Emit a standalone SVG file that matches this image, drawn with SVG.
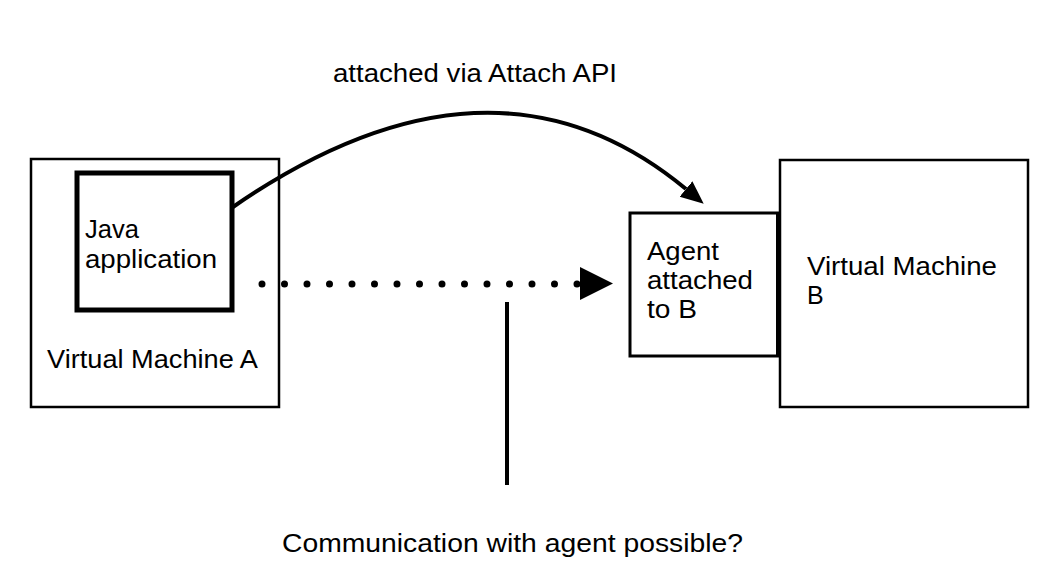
<svg xmlns="http://www.w3.org/2000/svg" width="1062" height="574" viewBox="0 0 1062 574">
<style>
.box{fill:#fff;stroke:#000}
.t{font-family:"Liberation Sans",Arial,Helvetica,sans-serif;font-size:25px;fill:#000}
</style>
<defs>
<marker id="ah" markerUnits="userSpaceOnUse" markerWidth="24" markerHeight="22" refX="0" refY="10" orient="auto" viewBox="0 0 24 22">
<path d="M0,0 L23,10 L0,20 z" fill="#000"/>
</marker>
</defs>
<rect width="1062" height="574" fill="#fff"/>
<g id="vmA">
<rect class="box" x="31" y="159" width="248" height="248" stroke-width="2.5"/>
<text class="t" x="47" y="368" textLength="211" lengthAdjust="spacingAndGlyphs">Virtual Machine A</text>
</g>
<g id="javaApp">
<rect class="box" x="77" y="173" width="155" height="137" stroke-width="5"/>
<text class="t" x="85" y="238" textLength="54" lengthAdjust="spacingAndGlyphs">Java</text>
<text class="t" x="85" y="268" textLength="132" lengthAdjust="spacingAndGlyphs">application</text>
</g>
<g id="vmB">
<rect class="box" x="780" y="160" width="248" height="247" stroke-width="2.5"/>
<text class="t" x="807" y="275" textLength="190" lengthAdjust="spacingAndGlyphs">Virtual Machine</text>
<text class="t" x="807" y="304">B</text>
</g>
<g id="agent">
<rect class="box" x="630" y="213" width="147.5" height="143" stroke-width="3"/>
<text class="t" x="647" y="260" textLength="72" lengthAdjust="spacingAndGlyphs">Agent</text>
<text class="t" x="647" y="289" textLength="106" lengthAdjust="spacingAndGlyphs">attached</text>
<text class="t" x="647" y="318" textLength="50" lengthAdjust="spacingAndGlyphs">to B</text>
</g>
<g id="connectors">
<path d="M233,207 Q492,28 686,189" fill="none" stroke="#000" stroke-width="4" marker-end="url(#ah)"/>
<line x1="262" y1="284" x2="578" y2="284" stroke="#000" stroke-width="7" stroke-linecap="round" stroke-dasharray="0 22.5"/>
<polygon points="580,267 613,283.5 580,300" fill="#000"/>
<line x1="507" y1="302" x2="507" y2="485" stroke="#000" stroke-width="4"/>
</g>
<g id="labels">
<text class="t" x="333" y="82" textLength="284" lengthAdjust="spacingAndGlyphs">attached via Attach API</text>
<text class="t" x="282" y="552" textLength="461" lengthAdjust="spacingAndGlyphs">Communication with agent possible?</text>
</g>
</svg>
